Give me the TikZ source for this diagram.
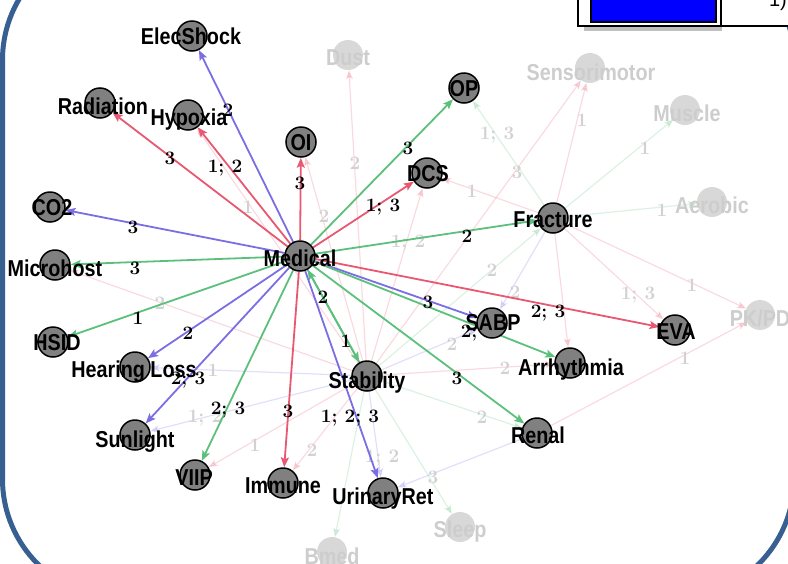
\documentclass[tikz,border=0pt]{standalone}
\usepackage{fontspec}
\newfontfamily\lblfont{Liberation Sans}
\usetikzlibrary{arrows.meta}
\definecolor{sred}{RGB}{232,88,112}
\definecolor{sblue}{RGB}{122,110,228}
\definecolor{sgreen}{RGB}{92,192,124}
\definecolor{frameblue}{RGB}{55,95,145}
\definecolor{nodegray}{RGB}{128,128,128}
\definecolor{fadefill}{RGB}{216,216,216}
\definecolor{fadetext}{RGB}{205,205,205}
\newcommand{\nlab}[1]{\scalebox{0.86}[1]{\lblfont\bfseries\fontsize{23}{26}\selectfont #1}}
\pgfdeclarelayer{back}
\pgfsetlayers{back,main}
\begin{document}
\begin{tikzpicture}[x=1pt,y=-1pt,
  nd/.style={circle, fill=nodegray, draw=black, line width=1.5pt, minimum size=30pt, inner sep=0pt},
  fnd/.style={circle, fill=fadefill, minimum size=30pt, inner sep=0pt},
  lbl/.style={inner sep=0pt},
  flbl/.style={lbl, text=fadetext},
  elbl/.style={font=\bfseries\fontsize{19}{22}\selectfont, inner sep=0pt},
  felbl/.style={elbl, text=black!18},
  se/.style={line width=1.8pt, -{Stealth[length=10pt,width=8pt,inset=2pt]}},
  fe/.style={line width=1.2pt, opacity=0.22, -{Stealth[length=9pt,width=7pt,inset=2pt]}}]
\useasboundingbox (0,0) rectangle (788,563);
% frame
\draw[frameblue, line width=5pt, rounded corners=120pt] (2.5,-60) rectangle (794,599);
% legend fragment
\fill[black!25] (584,26) rectangle (722,31);
\fill[white] (578,-10) rectangle (800,26);
\draw[line width=2pt] (578,-10) rectangle (800,26);
\draw[line width=2pt] (721,-10) -- (721,26);
\draw[fill={rgb,255:red,0;green,0;blue,255}, line width=1.5pt] (591,-10) rectangle (716,22);
\node[inner sep=0pt, font=\lblfont\fontsize{20}{22}\selectfont, anchor=base] (legtxt) at (778,6) {1)};
% nodes
\node[nd] (Medical) at (300,256) {};
\node[nd] (ElecShock) at (192,36) {};
\node[fnd] (Dust) at (348,55) {};
\node[nd] (Radiation) at (100,103) {};
\node[nd] (Hypoxia) at (188,115) {};
\node[nd] (OI) at (301,142) {};
\node[nd] (CO2) at (50,207) {};
\node[nd] (Microhost) at (55,265) {};
\node[nd] (HSID) at (53,342) {};
\node[nd] (HearingLoss) at (135,367) {};
\node[nd] (Sunlight) at (135,435) {};
\node[nd] (VIIP) at (195,475) {};
\node[nd] (Immune) at (283,483) {};
\node[nd] (UrinaryRet) at (383,493) {};
\node[fnd] (Bmed) at (332,552) {};
\node[fnd] (Sleep) at (460,527) {};
\node[nd] (Stability) at (367,376) {};
\node[nd] (OP) at (464,88) {};
\node[nd] (DCS) at (427,173) {};
\node[fnd] (Sensorimotor) at (590,68) {};
\node[fnd] (Muscle) at (685,110) {};
\node[fnd] (Aerobic) at (712,202) {};
\node[nd] (Fracture) at (553,218) {};
\node[nd] (SABP) at (492,323) {};
\node[nd] (EVA) at (675,330) {};
\node[fnd] (PKPD) at (760,315) {};
\node[nd] (Arrhythmia) at (570,363) {};
\node[nd] (Renal) at (537,433) {};
\begin{pgfonlayer}{back}
% faint edges
\draw[fe,sgreen] (Fracture) -- (OP);
\draw[fe,sred] (Fracture) -- (Sensorimotor);
\draw[fe,sgreen] (Fracture) -- (Muscle);
\draw[fe,sgreen] (Fracture) -- (Aerobic);
\draw[fe,sred] (Fracture) -- (DCS);
\draw[fe,sred] (Fracture) -- (PKPD);
\draw[fe,sred] (Fracture) -- (EVA);
\draw[fe,sred] (Fracture) -- (Arrhythmia);
\draw[fe,sblue] (Fracture) -- (SABP);
\draw[fe,sgreen] (Stability) -- (Fracture);
\draw[fe,sred] (Stability) -- (Sensorimotor);
\draw[fe,sred] (Stability) -- (DCS);
\draw[fe,sred] (Stability) -- (Dust);
\draw[fe,sred] (Stability) -- (OI);
\draw[fe,sred] (Stability) -- (Hypoxia);
\draw[fe,sred] (Stability) -- (Microhost);
\draw[fe,sblue] (Stability) -- (HearingLoss);
\draw[fe,sblue] (Stability) -- (Sunlight);
\draw[fe,sred] (Stability) -- (VIIP);
\draw[fe,sred] (Stability) -- (Immune);
\draw[fe,sblue] (Stability) -- (UrinaryRet);
\draw[fe,sgreen] (Stability) -- (Bmed);
\draw[fe,sgreen] (Stability) -- (Sleep);
\draw[fe,sgreen] (Stability) -- (Renal);
\draw[fe,sred] (Stability) -- (Arrhythmia);
\draw[fe,sblue] (Stability) -- (SABP);
\draw[fe,sblue] (Renal) -- (UrinaryRet);
\draw[fe,sred] (Renal) -- (PKPD);
% faint edge labels
\node[felbl] at (497,135) {1; 3};
\node[felbl] at (582,120) {1};
\node[felbl] at (645,148) {1};
\node[felbl] at (662,210) {1};
\node[felbl] at (472,191) {1};
\node[felbl] at (692,285) {1};
\node[felbl] at (638,295) {1; 3};
\node[felbl] at (515,292) {2};
\node[felbl] at (492,270) {2};
\node[felbl] at (517,172) {3};
\node[felbl] at (408,243) {1; 2};
\node[felbl] at (355,163) {2};
\node[felbl] at (324,216) {2};
\node[felbl] at (248,207) {1};
\node[felbl] at (160,303) {2};
\node[felbl] at (213,370) {1};
\node[felbl] at (205,418) {1; 2};
\node[felbl] at (255,445) {1};
\node[felbl] at (312,450) {2};
\node[felbl] at (382,458) {1; 2};
\node[felbl] at (482,417) {2};
\node[felbl] at (505,368) {2};
\node[felbl] at (452,344) {2};
\node[felbl] at (433,477) {3};
\node[felbl] at (685,358) {1};
% strong edges
\draw[se,sblue] (Medical) -- (ElecShock);
\draw[se,sred] (Medical) -- (Radiation);
\draw[se,sred] (Medical) -- (Hypoxia);
\draw[se,sred] (Medical) -- (OI);
\draw[se,sblue] (Medical) -- (CO2);
\draw[se,sgreen] (Medical) -- (Microhost);
\draw[se,sgreen] (Medical) -- (HSID);
\draw[se,sblue] (Medical) -- (HearingLoss);
\draw[se,sblue] (Medical) -- (Sunlight);
\draw[se,sgreen] (Medical) -- (VIIP);
\draw[se,sred] (Medical) -- (Immune);
\draw[se,sblue] (Medical) -- (UrinaryRet);
\draw[se,sgreen] (Medical) -- (Stability);
\draw[se,sgreen] (Stability) -- (Medical);
\draw[se,sgreen] (Medical) -- (Renal);
\draw[se,sblue] (Medical) -- (SABP);
\draw[se,sgreen] (Medical) -- (Arrhythmia);
\draw[se,sgreen] (Medical) -- (OP);
\draw[se,sred] (Medical) -- (DCS);
\draw[se,sgreen] (Medical) -- (Fracture);
\draw[se,sred] (Medical) -- (EVA);
% strong edge labels
\node[elbl] at (228,110) {2};
\node[elbl] at (170,158) {3};
\node[elbl] at (225,168) {1; 2};
\node[elbl] at (300,183) {3};
\node[elbl] at (133,227) {3};
\node[elbl] at (135,268) {3};
\node[elbl] at (138,318) {1};
\node[elbl] at (188,333) {2};
\node[elbl] at (188,380) {2; 3};
\node[elbl] at (228,410) {2; 3};
\node[elbl] at (288,411) {3};
\node[elbl] at (350,418) {1; 2; 3};
\node[elbl] at (346,341) {1};
\node[elbl] at (323,297) {2};
\node[elbl] at (457,378) {3};
\node[elbl] at (428,302) {3};
\node[elbl] at (478,333) {2; 3};
\node[elbl] at (408,148) {3};
\node[elbl] at (383,207) {1; 3};
\node[elbl] at (467,236) {2};
\node[elbl] at (548,313) {2; 3};
\end{pgfonlayer}
% node labels
\node[lbl] at (191,36) {\nlab{ElecShock}};
\node[flbl] at (348,58) {\nlab{Dust}};
\node[lbl] at (103,106) {\nlab{Radiation}};
\node[lbl] at (189,120) {\nlab{Hypoxia}};
\node[lbl] at (301,143) {\nlab{OI}};
\node[lbl] at (52,208) {\nlab{CO2}};
\node[lbl] at (55,268) {\nlab{Microhost}};
\node[lbl] at (300,258) {\nlab{Medical}};
\node[lbl] at (57,343) {\nlab{HSID}};
\node[lbl] at (134,372) {\nlab{Hearing Loss}};
\node[lbl] at (135,442) {\nlab{Sunlight}};
\node[lbl] at (194,478) {\nlab{VIIP}};
\node[lbl] at (283,486) {\nlab{Immune}};
\node[lbl] at (383,499) {\nlab{UrinaryRet}};
\node[flbl] at (332,556) {\nlab{Bmed}};
\node[flbl] at (460,532) {\nlab{Sleep}};
\node[lbl] at (367,383) {\nlab{Stability}};
\node[lbl] at (464,89) {\nlab{OP}};
\node[lbl] at (428,174) {\nlab{DCS}};
\node[flbl] at (591,72) {\nlab{Sensorimotor}};
\node[flbl] at (687,113) {\nlab{Muscle}};
\node[flbl] at (712,205) {\nlab{Aerobic}};
\node[lbl] at (553,220) {\nlab{Fracture}};
\node[lbl] at (493,323) {\nlab{SABP}};
\node[lbl] at (676,332) {\nlab{EVA}};
\node[flbl] at (760,318) {\nlab{PK/PD}};
\node[lbl] at (571,370) {\nlab{Arrhythmia}};
\node[lbl] at (538,435) {\nlab{Renal}};
\end{tikzpicture}
\end{document}
